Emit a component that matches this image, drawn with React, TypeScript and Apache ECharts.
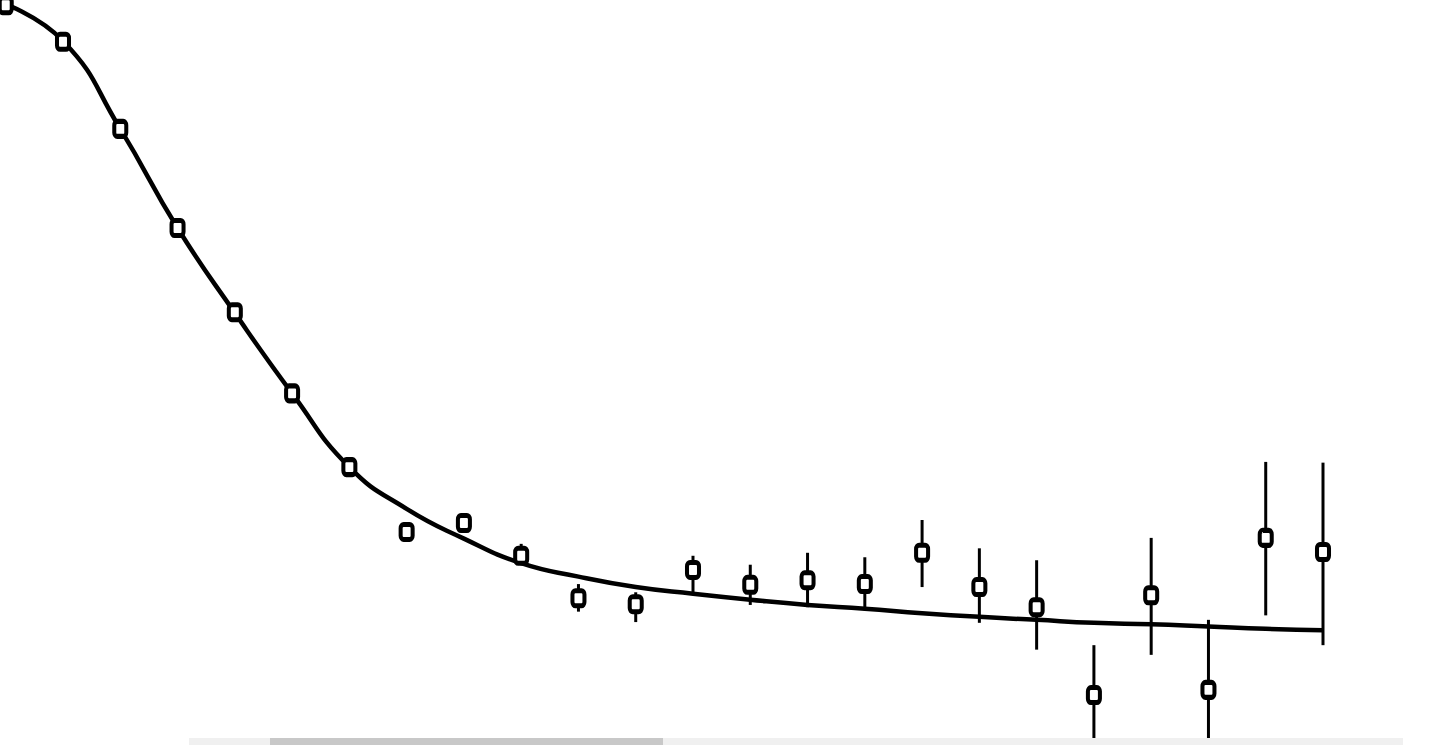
import React, { useEffect, useRef } from "react";
import * as echarts from "echarts";

// Measured points (index along x, relative response)
const pointX = [0, 1, 2, 3, 4, 5, 6, 7, 8, 9, 10, 11, 12, 13, 14, 15, 16, 17, 18, 19, 20, 21, 22, 23];
const pointY = [
  0.993, 0.944, 0.827, 0.694, 0.581, 0.472, 0.373, 0.286, 0.298, 0.254, 0.197, 0.189,
  0.235, 0.215, 0.221, 0.216, 0.258, 0.212, 0.185, 0.067, 0.201, 0.074, 0.278, 0.259,
];
// Error bars: lower and upper bounds (null = no visible bar)
const errLow: (number | null)[] = [
  null, null, null, null, null, null, null, null, null, 0.244, 0.179, 0.165,
  0.205, 0.188, 0.185, 0.181, 0.212, 0.164, 0.128, -0.02, 0.121, -0.02, 0.174, 0.134,
];
const errHigh: (number | null)[] = [
  null, null, null, null, null, null, null, null, null, 0.27, 0.216, 0.205,
  0.254, 0.242, 0.258, 0.252, 0.302, 0.264, 0.248, 0.134, 0.278, 0.168, 0.38, 0.379,
];
// Fitted curve
const curveX = [-0.1, 1, 2, 3, 4, 5, 6, 7, 8, 9, 10, 11, 12, 13, 14, 15, 16, 17, 18, 19, 20, 21, 22, 23];
const curveY = [
  0.997, 0.945, 0.827, 0.694, 0.58, 0.472, 0.373, 0.317, 0.277, 0.244, 0.226, 0.212,
  0.203, 0.195, 0.188, 0.183, 0.177, 0.172, 0.168, 0.164, 0.162, 0.159, 0.156, 0.154,
];

export default function App() {
  const ref = useRef<HTMLDivElement>(null);
  useEffect(() => {
    if (!ref.current) return;
    const chart = echarts.init(ref.current, null, { renderer: "svg" });
    const errData = pointX
      .map((x, i) => [x, errLow[i], errHigh[i]])
      .filter((d) => d[1] !== null && d[2] !== null);
    chart.setOption({
      animation: false,
      backgroundColor: "#ffffff",
      grid: { left: 0, right: 119, top: 0, bottom: 0 },
      xAxis: { type: "value", min: -0.1, max: 23, show: false },
      yAxis: { type: "value", min: 0, max: 1, show: false },
      series: [
        {
          type: "line",
          data: curveX.map((x, i) => [x, curveY[i]]),
          smooth: 0.5,
          showSymbol: false,
          lineStyle: { color: "#000", width: 4.5 },
          z: 2,
        },
        {
          type: "custom",
          data: errData,
          encode: { x: 0, y: [1, 2] },
          clip: false,
          renderItem: (params: any, api: any) => {
            const x = api.value(0);
            const p1 = api.coord([x, api.value(2)]);
            const p2 = api.coord([x, api.value(1)]);
            return {
              type: "line",
              shape: { x1: p1[0], y1: p1[1], x2: p2[0], y2: p2[1] },
              style: { stroke: "#000", lineWidth: 3 },
            };
          },
          z: 3,
        },
        {
          type: "scatter",
          data: pointX.map((x, i) => [x, pointY[i]]),
          symbol: "roundRect",
          symbolSize: [12, 15],
          itemStyle: { color: "#fff", borderColor: "#000", borderWidth: 4.5, opacity: 1 },
          z: 4,
        },
      ],
      graphic: [
        {
          type: "rect",
          shape: { x: 189, y: 738, width: 1214, height: 7 },
          style: { fill: "#f0f0f0" },
          z: 100,
        },
        {
          type: "rect",
          shape: { x: 270, y: 738, width: 393, height: 7 },
          style: { fill: "#c8c8c8" },
          z: 101,
        },
      ],
    });
    return () => chart.dispose();
  }, []);
  return (
    <div
      ref={ref}
      style={{ position: "absolute", left: 0, top: 0, width: 1442, height: 745 }}
    />
  );
}
